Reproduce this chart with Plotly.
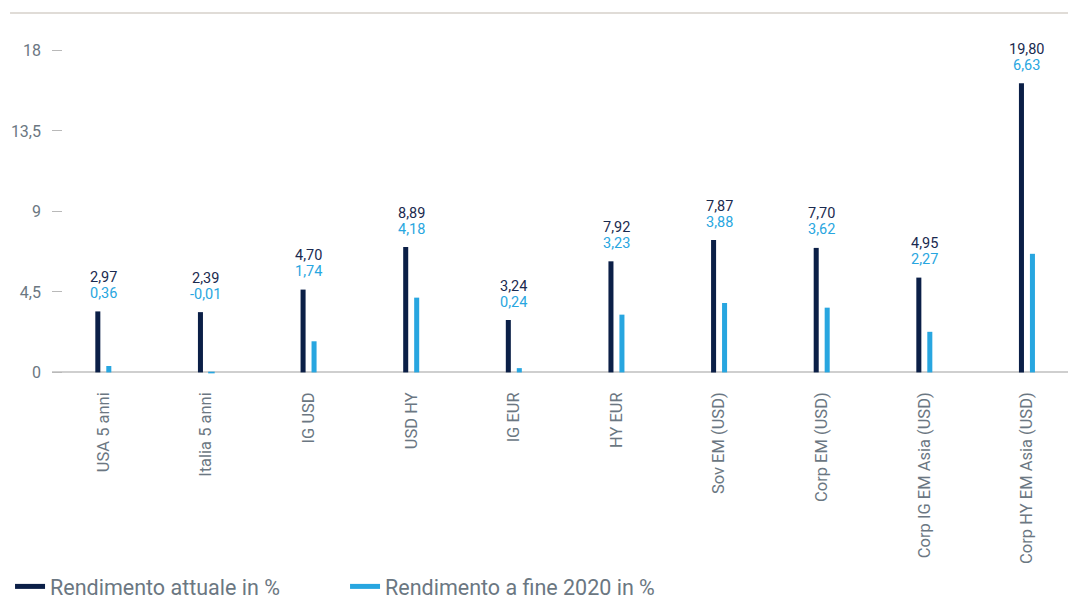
import plotly.graph_objects as go

categories = ["USA 5 anni", "Italia 5 anni", "IG USD", "USD HY", "IG EUR", "HY EUR",
              "Sov EM (USD)", "Corp EM (USD)", "Corp IG EM Asia (USD)", "Corp HY EM Asia (USD)"]
# bar heights of the dark series as drawn in the picture
attuale_bars = [3.41, 3.37, 4.63, 7.01, 2.93, 6.21, 7.40, 6.96, 5.30, 16.16]
# values printed above the bars
attuale_labels = [2.97, 2.39, 4.70, 8.89, 3.24, 7.92, 7.87, 7.70, 4.95, 19.80]
fine2020 = [0.36, -0.01, 1.74, 4.18, 0.24, 3.23, 3.88, 3.62, 2.27, 6.63]
ytick_vals = [0, 4.5, 9, 13.5, 18]

DARK = "#0b1f47"
LIGHT = "#28a6e0"
GRAY = "#6b7782"
FONT = "Roboto"

def fmt(v):
    return f"{v:.2f}".replace(".", ",")

fig = go.Figure()
fig.add_trace(go.Bar(x=categories, y=attuale_bars, marker_color=DARK, width=0.049,
                     offset=-0.078, showlegend=False, hoverinfo="skip",
                     marker_line_width=0))
fig.add_trace(go.Bar(x=categories, y=fine2020, marker_color=LIGHT, width=0.049,
                     offset=0.029, showlegend=False, hoverinfo="skip",
                     marker_line_color=LIGHT,
                     marker_line_width=[1.5 if v < 0 else 0 for v in fine2020]))
# legend entries
fig.add_trace(go.Scatter(x=[None], y=[None], mode="lines", line=dict(color=DARK, width=5),
                         name="Rendimento attuale in %"))
fig.add_trace(go.Scatter(x=[None], y=[None], mode="lines", line=dict(color=LIGHT, width=5),
                         name="Rendimento a fine 2020 in %"))

annotations = []
for c, h, lab, lv in zip(categories, attuale_bars, attuale_labels, fine2020):
    annotations.append(dict(x=c, y=h, xref="x", yref="y", text=fmt(lab), showarrow=False,
                            yshift=34, yanchor="middle", font=dict(family=FONT, size=14.5, color="#1a2a4f")))
    annotations.append(dict(x=c, y=h, xref="x", yref="y", text=fmt(lv), showarrow=False,
                            yshift=18, yanchor="middle", font=dict(family=FONT, size=14.5, color=LIGHT)))

fig.update_layout(
    width=1068, height=599,
    margin=dict(l=52, r=0, t=13, b=223, autoexpand=False),
    paper_bgcolor="white", plot_bgcolor="white",
    separators=",.",
    barmode="overlay",
    font=dict(family=FONT, color=GRAY),
    annotations=annotations,
    shapes=[dict(type="line", xref="paper", yref="paper", x0=-0.0413, x1=1, y0=1, y1=1,
                 line=dict(color="#d6d0ca", width=1.5))],
    legend=dict(orientation="h", xref="container", yref="container", x=0.0094, y=0.021,
                xanchor="left", yanchor="middle", entrywidth=290,
                font=dict(family=FONT, size=21.5, color=GRAY)),
    xaxis=dict(type="category", range=[-0.5, 9.4], tickangle=-90, ticks="", showgrid=False,
               showline=False, zeroline=False, ticklabelstandoff=12,
               tickfont=dict(family=FONT, size=16.5, color=GRAY)),
    yaxis=dict(range=[-0.2, 20.09], tickvals=ytick_vals, ticks="inside", ticklen=10,
               tickcolor="#b9b9b9", tickwidth=1, showgrid=False, showline=False,
               zeroline=True, zerolinecolor="#cfcfcf", zerolinewidth=2,
               ticklabelstandoff=10,
               tickfont=dict(family=FONT, size=16, color=GRAY)),
)

fig.write_html("out.html")
